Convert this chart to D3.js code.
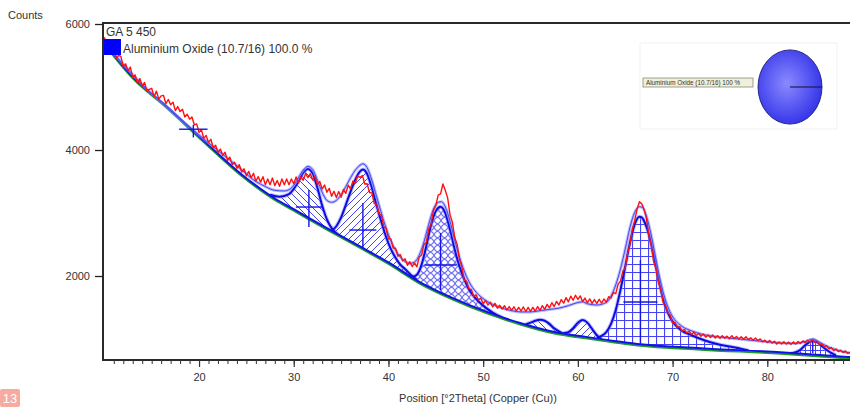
<!DOCTYPE html>
<html>
<head>
<meta charset="utf-8">
<script src="https://cdn.jsdelivr.net/npm/d3@7"></script>
<style>
  body { margin: 0; background: #fff; }
  svg { display: block; font-family: 'Liberation Sans', Arial, sans-serif; }
</style>
</head>
<body>
<div class="holder"></div>
<script>
const width = 850;
const height = 407;

const xTicks = [20, 30, 40, 50, 60, 70, 80];
const yTicks = [2000, 4000, 6000];

// observed pattern, one value every 0.25 deg from 10
const redStart = 10;
const redStep = 0.25;
const redCounts = [
  5790, 5670, 5720, 5590, 5610, 5457, 5500, 5487, 5325, 5367, 5255, 5317,
  5150, 5190, 5060, 5135, 5015, 5072, 4935, 4962, 4980, 4847, 4935, 4807,
  4860, 4867, 4735, 4802, 4720, 4760, 4625, 4690, 4610, 4647, 4525, 4567,
  4490, 4525, 4400, 4415, 4280, 4322, 4185, 4232, 4120, 4170, 4035, 4075,
  3960, 4015, 3915, 3965, 3835, 3887, 3765, 3807, 3710, 3767, 3650, 3702,
  3590, 3660, 3560, 3630, 3505, 3577, 3490, 3577, 3450, 3540, 3450, 3555,
  3435, 3515, 3425, 3540, 3450, 3540, 3450, 3540, 3465, 3572, 3480, 3577,
  3520, 3625, 3560, 3625, 3525, 3582, 3450, 3502, 3380, 3445, 3330, 3390,
  3265, 3345, 3245, 3340, 3250, 3372, 3310, 3442, 3385, 3507, 3475, 3587,
  3565, 3595, 3460, 3465, 3325, 3320, 3150, 3140, 2990, 2965, 2785, 2760,
  2590, 2590, 2445, 2440, 2315, 2340, 2240, 2275, 2170, 2227, 2150, 2207,
  2145, 2302, 2335, 2502, 2530, 2747, 2820, 3042, 3120, 3285, 3305, 3460,
  3360, 3240, 2975, 2855, 2610, 2502, 2265, 2147, 1930, 1917, 1795, 1787,
  1675, 1702, 1620, 1652, 1560, 1612, 1540, 1582, 1510, 1565, 1490, 1535,
  1475, 1530, 1460, 1515, 1455, 1512, 1445, 1502, 1445, 1509, 1437, 1501,
  1440, 1504, 1442, 1516, 1455, 1530, 1470, 1550, 1495, 1577, 1515, 1597,
  1540, 1627, 1570, 1657, 1590, 1680, 1615, 1695, 1630, 1685, 1595, 1650,
  1575, 1637, 1565, 1627, 1565, 1630, 1570, 1635, 1585, 1672, 1650, 1737,
  1720, 1872, 1920, 2077, 2130, 2367, 2500, 2742, 2880, 3060, 3180, 3145,
  3055, 2902, 2640, 2482, 2230, 2112, 1905, 1787, 1580, 1537, 1415, 1377,
  1255, 1262, 1185, 1197, 1125, 1152, 1095, 1127, 1070, 1107, 1055, 1087,
  1045, 1080, 1030, 1065, 1025, 1062, 1015, 1052, 1010, 1054, 1012, 1046,
  1005, 1054, 1007, 1041, 1000, 1037, 1000, 1037, 990, 1020, 980, 1015,
  975, 1002, 955, 982, 945, 975, 935, 965, 920, 954, 922, 956,
  920, 950, 915, 955, 920, 960, 930, 970, 940, 980, 950, 990,
  950, 966, 912, 924, 875, 895, 845, 865, 815, 842, 800, 822,
  785, 812, 770, 792, 760
];

// background
const bgAngle = [10, 13, 16.6, 20, 24.6, 28, 30, 33.5, 37, 40, 43.3, 46.8, 50.4, 53.9, 57.4, 61, 64.5, 66.3, 73, 81.4, 88.5, 90];
const bgCounts = [5700, 5160, 4690, 4220, 3600, 3230, 3060, 2760, 2470, 2215, 1905, 1650, 1430, 1255, 1115, 1030, 955, 922, 855, 790, 715, 700];

// calculated total profile
const calcCurve = [
  [10, 5710], [12, 5360], [14, 5040], [16, 4760], [18, 4490], [20, 4240], [22, 3990],
  [24, 3750], [26, 3500], [27, 3420], [28, 3360], [29, 3350], [29.5, 3370], [30, 3440],
  [30.5, 3560], [31, 3680], [31.5, 3740], [32, 3690], [32.5, 3520], [33, 3330], [33.5, 3200],
  [34, 3170], [34.5, 3200], [35, 3290], [35.5, 3420], [36, 3560], [36.5, 3680], [37, 3760],
  [37.3, 3780], [37.75, 3720], [38.25, 3520], [38.75, 3260], [39.25, 3000], [39.75, 2760],
  [40.25, 2560], [40.75, 2410], [41.25, 2300], [41.75, 2230], [42.25, 2200], [42.75, 2220],
  [43.25, 2330], [43.75, 2540], [44.25, 2820], [44.75, 3060], [45.25, 3170], [45.6, 3180],
  [46, 3100], [46.5, 2870], [47, 2570], [47.5, 2300], [48, 2080], [48.5, 1910], [49, 1790],
  [50, 1640], [51, 1550], [52, 1490], [53, 1450], [54, 1430], [55, 1430], [56, 1450],
  [57, 1470], [58, 1490], [59, 1530], [60, 1580], [60.5, 1590], [61, 1560], [62, 1540],
  [63, 1580], [63.5, 1680], [64, 1860], [64.5, 2110], [65, 2430], [65.5, 2770], [66, 3010],
  [66.5, 3100], [66.8, 3090], [67.2, 2970], [67.7, 2680], [68.2, 2300], [68.7, 1930],
  [69.2, 1640], [69.7, 1440], [70.2, 1310], [71, 1200], [72, 1130], [73, 1080], [75, 1030],
  [77, 1000], [79, 970], [81, 940], [83, 930], [84, 960], [84.8, 1000], [85.5, 950],
  [86.5, 870], [88, 800], [89, 770]
];

// fitted single peaks (angle, counts)
const peak1 = [[27.5, 3290], [28.5, 3260], [29.5, 3300], [30.5, 3500], [31, 3640], [31.5, 3700], [32, 3630], [32.5, 3400], [33, 3120], [33.5, 2900], [34, 2760], [34.5, 2680], [35, 2600]];
const peak2 = [[34, 2720], [34.5, 2790], [35, 2930], [35.5, 3130], [36, 3340], [36.5, 3530], [37, 3660], [37.3, 3690], [37.75, 3620], [38.25, 3400], [38.75, 3120], [39.25, 2860], [39.75, 2620], [40.25, 2430], [40.75, 2290], [41.25, 2180], [41.75, 2110], [42.5, 2000], [43, 1940]];
const peak3 = [[42.5, 1985], [43, 2020], [43.5, 2180], [44, 2480], [44.5, 2810], [45, 3030], [45.5, 3100], [46, 3000], [46.5, 2740], [47, 2420], [47.5, 2150], [48, 1950], [48.5, 1790], [49, 1680], [49.5, 1600], [50, 1530], [51, 1420], [52, 1340]];
const peakA = [[54.5, 1235], [55, 1260], [55.5, 1290], [56, 1305], [56.5, 1290], [57, 1240], [57.5, 1170], [58, 1120], [58.5, 1080]];
const peakB = [[58.5, 1095], [59, 1110], [59.5, 1170], [60, 1260], [60.5, 1300], [61, 1260], [61.5, 1160], [62, 1060], [62.5, 1000]];
const peak4 = [[62, 1020], [62.5, 1050], [63, 1110], [63.5, 1240], [64, 1460], [64.5, 1780], [65, 2150], [65.5, 2530], [66, 2820], [66.5, 2940], [66.75, 2930], [67, 2870], [67.5, 2660], [68, 2330], [68.5, 1960], [69, 1640], [69.5, 1420], [70, 1280], [70.5, 1190], [71, 1130], [72, 1060], [73, 1000], [74, 950], [75, 910], [76, 880], [77, 855], [78, 820]];
const peak5 = [[82.5, 770], [83, 790], [83.5, 830], [84, 900], [84.5, 955], [84.86, 970], [85.25, 950], [85.75, 890], [86.25, 830], [86.75, 780], [87.25, 740]];

// peak markers
const markerPos = [19.4, 31.6, 37.3, 45.5, 66.6, 84.8];
const markerLow = [4200, 2778, 2460, 1778, 937, 778];
const markerHigh = [4400, 3365, 3159, 2682, 2254, 952];
const markerMid = [4330, 3095, 2730, 2175, 1587, 880];
const markerFwhm = [3.0, 2.75, 2.85, 3.4, 3.6, 0];

const phaseNames = ['Aluminium Oxide (10.7/16)'];
const phaseShare = [100];

const svg = d3
  .select('.holder')
  .append('svg')
  .attr('width', width)
  .attr('height', height);

const x = d3.scaleLinear().domain([9.86, 90]).range([103, 862]);
const y = d3.scaleLinear().domain([667, 6016]).range([360, 23]);

const defs = svg.append('defs');

defs.append('clipPath').attr('id', 'plot')
  .append('rect')
  .attr('x', 103).attr('y', 23)
  .attr('width', 760).attr('height', 337);

const bgData = bgAngle.map((a, i) => [a, bgCounts[i]]);

defs.append('clipPath').attr('id', 'abovebg')
  .append('path')
  .attr('d', d3.area()
    .x(d => x(d[0]))
    .y0(y.range()[1])
    .y1(d => y(d[1]))
    .curve(d3.curveMonotoneX)(bgData));

function pattern(id, size, draw) {
  const p = defs.append('pattern')
    .attr('id', id)
    .attr('patternUnits', 'userSpaceOnUse')
    .attr('width', size)
    .attr('height', size);
  draw(p, size);
}

const hatchColor = '#2222ee';
pattern('diagDown', 7, (p, s) => p.append('path')
  .attr('d', `M0,0L${s},${s}M-1,${s - 1}L1,${s + 1}M${s - 1},-1L${s + 1},1`)
  .attr('stroke', hatchColor).attr('stroke-width', 1));
pattern('diagUp', 7, (p, s) => p.append('path')
  .attr('d', `M0,${s}L${s},0M-1,1L1,-1M${s - 1},${s + 1}L${s + 1},${s - 1}`)
  .attr('stroke', hatchColor).attr('stroke-width', 1));
pattern('rings', 7, (p, s) => p.append('circle')
  .attr('cx', s / 2).attr('cy', s / 2).attr('r', 3)
  .attr('fill', 'none').attr('stroke', hatchColor).attr('stroke-width', 1));
pattern('grid', 8, (p, s) => p.append('path')
  .attr('d', `M0,0.5H${s}M0.5,0V${s}`)
  .attr('stroke', hatchColor).attr('stroke-width', 1.2));
pattern('gridSmall', 5, (p, s) => p.append('path')
  .attr('d', `M0,0.5H${s}M0.5,0V${s}`)
  .attr('stroke', hatchColor).attr('stroke-width', 1));

const plot = svg.append('g').attr('clip-path', 'url(#plot)');

const line = d3.line()
  .x(d => x(d[0]))
  .y(d => y(d[1]))
  .curve(d3.curveMonotoneX);

const peaks = [
  { data: peak1, fill: 'diagDown' },
  { data: peak2, fill: 'diagUp' },
  { data: peak3, fill: 'rings' },
  { data: peakA, fill: 'diagDown' },
  { data: peakB, fill: 'diagUp' },
  { data: peak4, fill: 'grid' },
  { data: peak5, fill: 'gridSmall' }
];

const peakArea = d3.area()
  .x(d => x(d[0]))
  .y0(y.range()[0])
  .y1(d => y(d[1]))
  .curve(d3.curveMonotoneX);

const peakLayer = plot.append('g').attr('clip-path', 'url(#abovebg)');

peakLayer.selectAll('.peak-fill')
  .data(peaks)
  .enter()
  .append('path')
  .attr('class', 'peak-fill')
  .attr('d', d => peakArea(d.data))
  .attr('fill', d => `url(#${d.fill})`)
  .attr('opacity', 0.85);

// background: blue over green
plot.append('path')
  .attr('d', line(bgData))
  .attr('fill', 'none')
  .attr('stroke', '#1f9a2a')
  .attr('stroke-width', 2)
  .attr('transform', 'translate(0,1.5)');

plot.append('path')
  .attr('d', line(bgData))
  .attr('fill', 'none')
  .attr('stroke', '#1212e6')
  .attr('stroke-width', 2);

// calculated profile
plot.append('path')
  .attr('d', line(calcCurve))
  .attr('fill', 'none')
  .attr('stroke', '#8c8cff')
  .attr('stroke-width', 3)
  .attr('opacity', 0.6);

plot.append('path')
  .attr('d', line(calcCurve))
  .attr('fill', 'none')
  .attr('stroke', '#4646f5')
  .attr('stroke-width', 1);

// peak outlines
peakLayer.selectAll('.peak-halo')
  .data(peaks)
  .enter()
  .append('path')
  .attr('d', d => line(d.data))
  .attr('fill', 'none')
  .attr('stroke', '#9090ff')
  .attr('stroke-width', 4)
  .attr('opacity', 0.55);

peakLayer.selectAll('.peak-line')
  .data(peaks)
  .enter()
  .append('path')
  .attr('d', d => line(d.data))
  .attr('fill', 'none')
  .attr('stroke', '#0c0ce0')
  .attr('stroke-width', 2);

// observed
const redData = redCounts.map((c, i) => [redStart + i * redStep, c]);
plot.append('path')
  .attr('d', d3.line().x(d => x(d[0])).y(d => y(d[1]))(redData))
  .attr('fill', 'none')
  .attr('stroke', '#ff1010')
  .attr('stroke-width', 1.4)
  .attr('stroke-linejoin', 'round');

// markers
const markers = plot.append('g')
  .attr('stroke', '#1414e6')
  .attr('stroke-width', 1.4);

markerPos.forEach((p, i) => {
  markers.append('line')
    .attr('x1', x(p)).attr('x2', x(p))
    .attr('y1', y(markerLow[i])).attr('y2', y(markerHigh[i]));
  if (markerFwhm[i] > 0) {
    markers.append('line')
      .attr('x1', x(p - markerFwhm[i] / 2)).attr('x2', x(p + markerFwhm[i] / 2))
      .attr('y1', y(markerMid[i])).attr('y2', y(markerMid[i]));
  }
});

// frame
svg.append('rect')
  .attr('x', 103).attr('y', 23)
  .attr('width', 760).attr('height', 337)
  .attr('fill', 'none')
  .attr('stroke', '#2a2a2a')
  .attr('stroke-width', 2);

// axes
const yAxis = d3.axisLeft(y)
  .tickValues(yTicks)
  .tickFormat(d3.format('d'))
  .tickSize(8)
  .tickPadding(5);

const gy = svg.append('g')
  .attr('transform', 'translate(103,0)')
  .call(yAxis);
gy.select('.domain').remove();
gy.selectAll('text').attr('font-size', 11).attr('fill', '#333').attr('font-family', 'Liberation Sans, Arial');
gy.selectAll('line').attr('stroke', '#222').attr('stroke-width', 1.3);

const gxMinor = svg.append('g')
  .attr('transform', 'translate(0,360)')
  .call(d3.axisBottom(x).tickValues(d3.range(11, 90)).tickSize(4).tickFormat(''));
gxMinor.select('.domain').remove();
gxMinor.selectAll('line').attr('stroke', '#333');

const gx = svg.append('g')
  .attr('transform', 'translate(0,360)')
  .call(d3.axisBottom(x).tickValues(xTicks).tickSize(7).tickPadding(6));
gx.select('.domain').remove();
gx.selectAll('text').attr('font-size', 11).attr('fill', '#333').attr('font-family', 'Liberation Sans, Arial');
gx.selectAll('line').attr('stroke', '#333').attr('stroke-width', 1.2);

svg.append('text')
  .attr('x', 8).attr('y', 19)
  .attr('font-size', 11)
  .attr('fill', '#333')
  .text('Counts');

svg.append('text')
  .attr('x', 478).attr('y', 402)
  .attr('text-anchor', 'middle')
  .attr('font-size', 11)
  .attr('fill', '#333')
  .text('Position [°2Theta] (Copper (Cu))');

// legend
svg.append('text')
  .attr('x', 106).attr('y', 36)
  .attr('font-size', 12)
  .attr('fill', '#333')
  .text('GA 5 450');

svg.append('rect')
  .attr('x', 104).attr('y', 39)
  .attr('width', 17).attr('height', 16)
  .attr('fill', '#0000ff');

svg.append('text')
  .attr('x', 123).attr('y', 53)
  .attr('font-size', 12)
  .attr('fill', '#333')
  .text(`${phaseNames[0]} ${phaseShare[0].toFixed(1)} %`);

// phase pie
const inset = svg.append('g');
inset.append('rect')
  .attr('x', 640).attr('y', 43)
  .attr('width', 197).attr('height', 86)
  .attr('fill', 'none')
  .attr('stroke', '#f2f2f2');

const grad = defs.append('radialGradient')
  .attr('id', 'pieGrad')
  .attr('cx', '45%').attr('cy', '45%').attr('r', '60%');
grad.append('stop').attr('offset', '0%').attr('stop-color', '#8a8aff');
grad.append('stop').attr('offset', '100%').attr('stop-color', '#3030e8');

const pie = d3.pie()
  .sort(null)
  .startAngle(Math.PI / 2)
  .endAngle(Math.PI / 2 + 2 * Math.PI);
const arc = d3.arc().innerRadius(0).outerRadius(32);

const pieG = inset.append('g')
  .attr('transform', 'translate(790,87) scale(1,1.16)');

pieG.selectAll('path')
  .data(pie(phaseShare))
  .enter()
  .append('path')
  .attr('d', arc)
  .attr('fill', 'url(#pieGrad)')
  .attr('stroke', '#1a1a70')
  .attr('stroke-width', 0.8);

pieG.selectAll('.edge')
  .data(pie(phaseShare))
  .enter()
  .append('line')
  .attr('x1', 0).attr('y1', 0)
  .attr('x2', d => 32 * Math.sin(d.startAngle))
  .attr('y2', d => -32 * Math.cos(d.startAngle))
  .attr('stroke', '#1a1a50')
  .attr('stroke-width', 1);

inset.append('rect')
  .attr('x', 643).attr('y', 78)
  .attr('width', 110).attr('height', 9)
  .attr('fill', '#f1f0dc')
  .attr('stroke', '#8a8a70')
  .attr('stroke-width', 0.8);

inset.append('text')
  .attr('x', 646).attr('y', 85)
  .attr('font-size', 6.3)
  .attr('fill', '#333')
  .text(`${phaseNames[0]} ${phaseShare[0]} %`);

// page number badge
svg.append('rect')
  .attr('x', 0).attr('y', 389)
  .attr('width', 20).attr('height', 18)
  .attr('rx', 2)
  .attr('fill', '#f6aaa2');

svg.append('text')
  .attr('x', 10).attr('y', 403)
  .attr('text-anchor', 'middle')
  .attr('font-size', 13)
  .attr('fill', '#fff')
  .text('13');
</script>
</body>
</html>
